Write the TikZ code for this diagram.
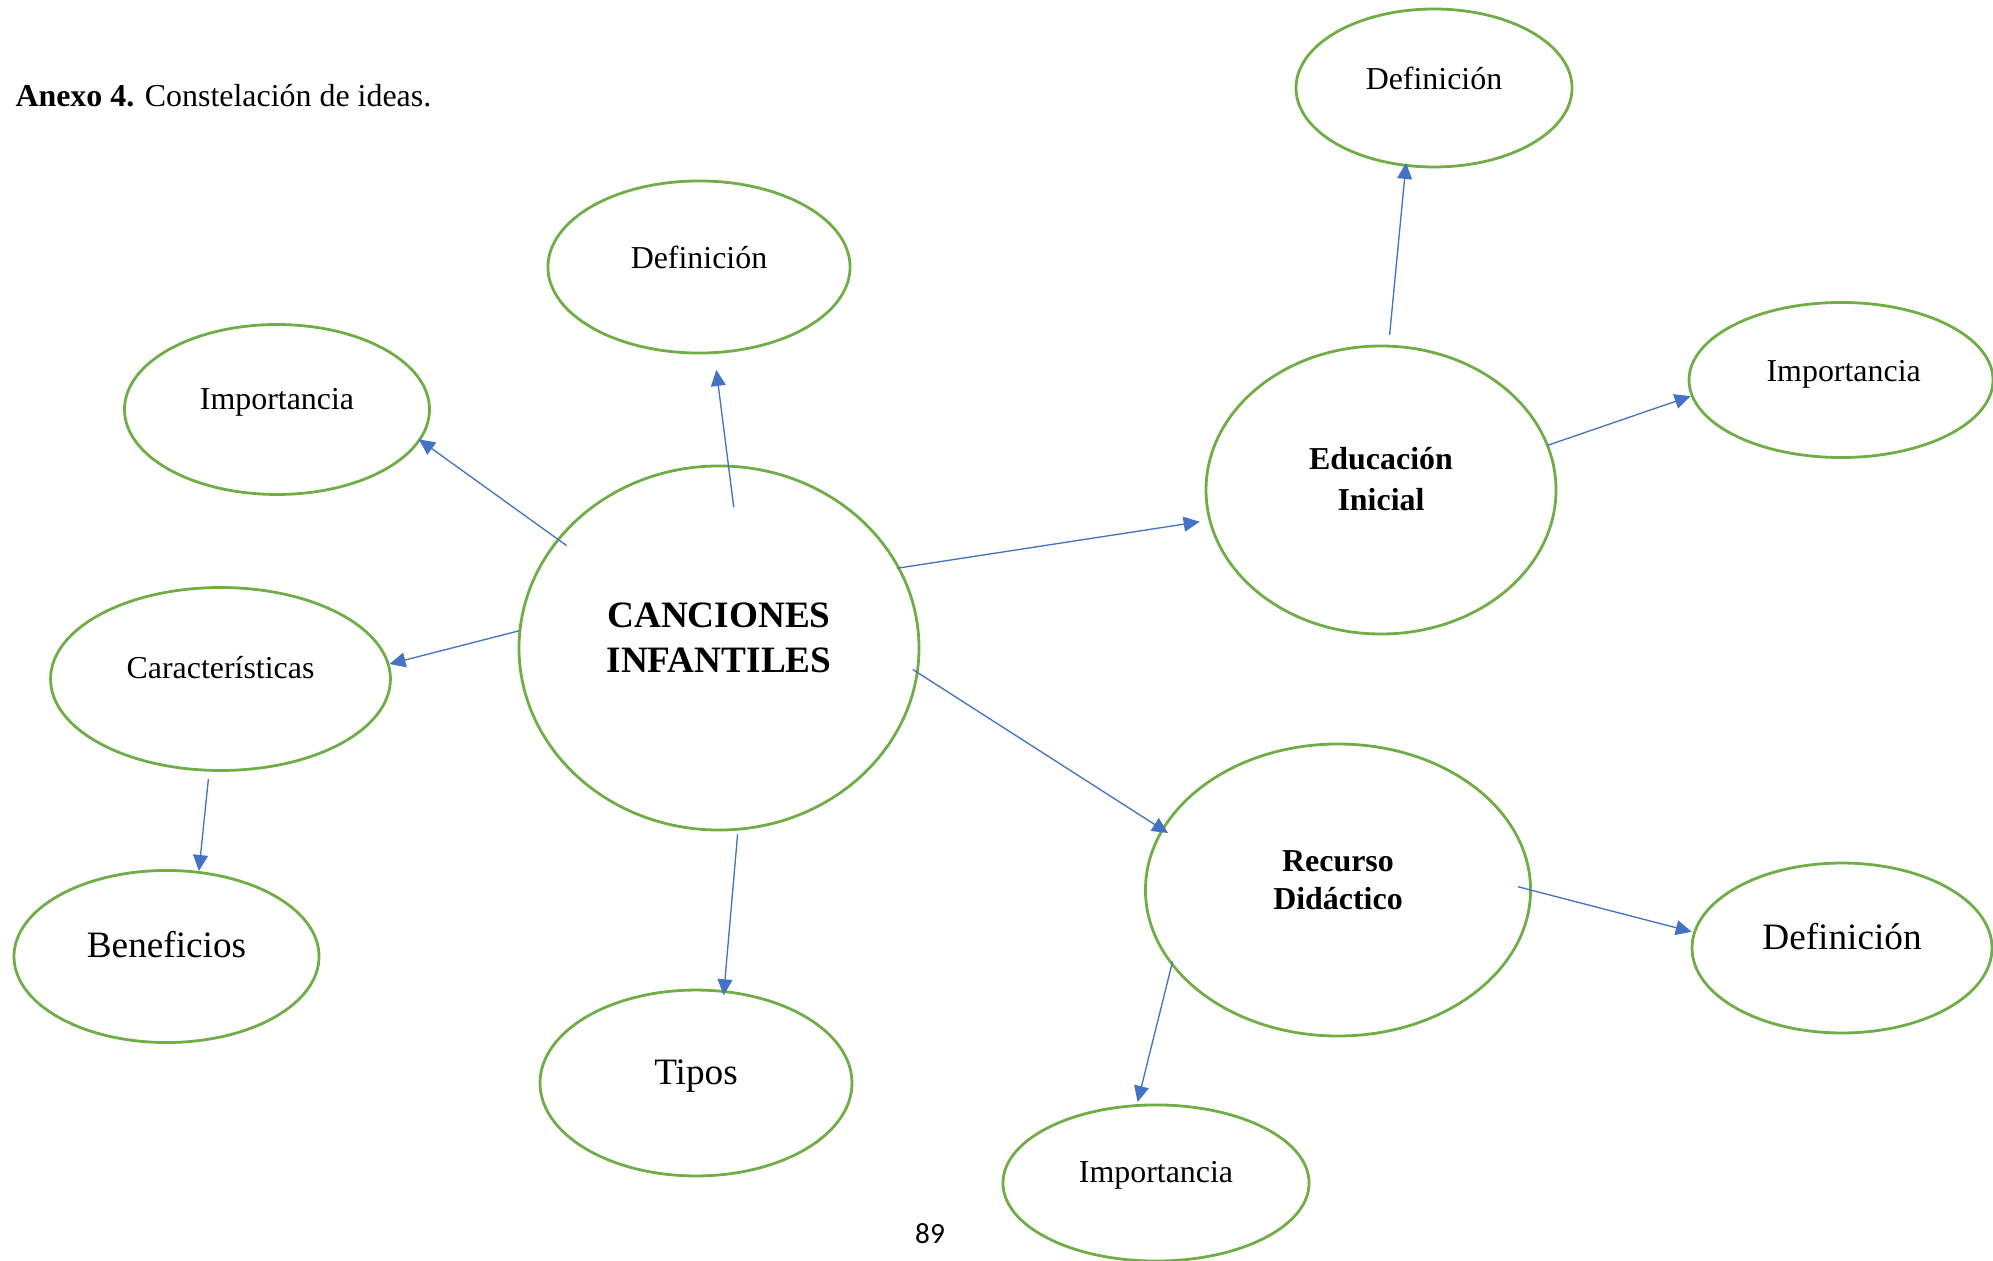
\documentclass[tikz,border=0pt]{standalone}
\usepackage{fontspec}
\setmainfont{Liberation Serif}
\newfontfamily\pagenumfont{Carlito}
\usetikzlibrary{shapes.geometric,arrows.meta}
\definecolor{ogreen}{HTML}{70AD47}
\definecolor{oblue}{HTML}{4472C4}
\begin{document}
\begin{tikzpicture}[x=0.376pt,y=0.376pt,
  ell/.style 2 args={ellipse, draw=ogreen, line width=1.05pt, minimum width=#1, minimum height=#2, inner sep=0pt, outer sep=0pt},
  txt/.style={font=\fontsize{12}{14}\selectfont, inner sep=0pt, anchor=base},
  bigtxt/.style={font=\fontsize{14}{16.8}\selectfont, inner sep=0pt, anchor=base},
  arr/.style={draw=oblue, line width=0.5pt, -{Triangle[length=6pt,width=5.6pt]}}]
\useasboundingbox (0,0) rectangle (1993,1260);

% title and page number
\node[anchor=base west, inner sep=0pt, font=\fontsize{12}{14}\selectfont] (title) at (15,1153.5) {\textbf{Anexo 4.} Constelación de ideas.};
\node[anchor=base, inner sep=0pt, font=\pagenumfont\fontsize{11}{13}\selectfont] (pnum) at (930,17) {89};

% ellipses
\node[ell={150.4pt}{136.9pt}] (C) at (719,612) {};
\node[ell={113.6pt}{64.7pt}] (D1) at (699,993) {};
\node[ell={114.7pt}{63.9pt}] (IL) at (277,850.5) {};
\node[ell={127.8pt}{68.8pt}] (Car) at (220.5,581) {};
\node[ell={114.7pt}{64.7pt}] (Ben) at (166.5,303.5) {};
\node[ell={117.3pt}{69.9pt}] (Tip) at (696,177) {};
\node[ell={131.6pt}{108.3pt}] (Edu) at (1381,770) {};
\node[ell={103.8pt}{59.4pt}] (DefT) at (1434,1172) {};
\node[ell={114.3pt}{58.3pt}] (ImpR) at (1841,880) {};
\node[ell={144.8pt}{109.8pt}] (Rec) at (1338,370) {};
\node[ell={112.8pt}{63.9pt}] (DefR) at (1842,312) {};
\node[ell={115.1pt}{58.7pt}] (ImpB) at (1156,77) {};

% texts
\node[inner sep=0pt, align=center, font=\fontsize{14}{16.9}\selectfont\bfseries] (tC) at ([yshift=3.7pt]C.center) {CANCIONES\\INFANTILES};
\node[inner sep=0pt, align=center, font=\fontsize{12}{15.4}\selectfont\bfseries] (tEdu) at ([yshift=4.1pt]Edu.center) {Educación\\Inicial};
\node[inner sep=0pt, align=center, font=\fontsize{12}{14.3}\selectfont\bfseries] (tRec) at ([yshift=3.6pt]Rec.center) {Recurso\\Didáctico};
\node[txt] (tD1) at ([yshift=-0.5pt]D1.center) {Definición};
\node[txt] (tIL) at (IL.center) {Importancia};
\node[txt] (tCar) at ([yshift=0.2pt]Car.center) {Características};
\node[bigtxt] (tBen) at ([yshift=-0.5pt]Ben.center) {Beneficios};
\node[bigtxt] (tTip) at ([yshift=-0.5pt]Tip.center) {Tipos};
\node[txt] (tDefT) at ([yshift=-0.5pt]DefT.center) {Definición};
\node[txt] (tImpR) at ([xshift=1pt,yshift=-0.5pt]ImpR.center) {Importancia};
\node[bigtxt] (tDefR) at ([yshift=-0.5pt]DefR.center) {Definición};
\node[txt] (tImpB) at ([yshift=0.2pt]ImpB.center) {Importancia};

% connectors
\draw[arr, shorten <=-15.5pt, shorten >=6.6pt] (C.87.3) -- (D1.280.7);
\draw[arr, shorten <=-3.9pt, shorten >=-0.3pt] (C.146.8) -- (IL.348.1);
\draw[arr, shorten <=0.3pt, shorten >=0.5pt] (C.175.65) -- (Car.5.7);
\draw[arr, shorten <=3.3pt, shorten >=0.55pt] (Car.263.4) -- (Ben.69);
\draw[arr, shorten <=1.9pt, shorten >=-1.4pt] (C.276.5) -- (Tip.73.9);
\draw[arr, shorten <=-0.7pt, shorten >=3.9pt] (C.24.4) -- (Edu.190.4);
\draw[arr, shorten <=-2pt, shorten >=-2.4pt] (C.353.4) -- (Rec.161.6);
\draw[arr, shorten <=4.2pt, shorten >=-0.9pt] (Edu.87.3) -- (DefT.250.6);
\draw[arr, shorten >=0.6pt] (Edu.15.9) -- (ImpR.186.3);
\draw[arr, shorten <=-4.9pt, shorten >=1.1pt] (Rec.0.2) -- (DefR.174.9);
\draw[arr, shorten <=-1pt, shorten >=1.4pt] (Rec.204.65) -- (ImpB.104.5);
\end{tikzpicture}
\end{document}
